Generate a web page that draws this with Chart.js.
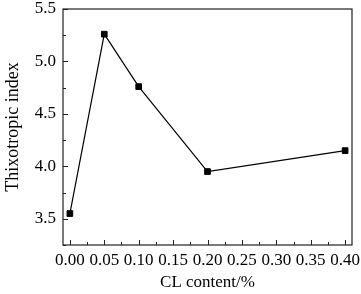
<!DOCTYPE html>
<html>
<head>
<meta charset="utf-8">
<script src="https://cdn.jsdelivr.net/npm/chart.js@4/dist/chart.umd.min.js"></script>
<style>
  html, body { margin: 0; padding: 0; background: #fff; }
</style>
</head>
<body>
<canvas id="thixo-chart" width="361" height="294"></canvas>
<script>
const clContent = [0.00, 0.05, 0.10, 0.20, 0.40];
const thixoIndex = [3.55, 5.26, 4.76, 3.95, 4.15];
const xTicks = [0.00, 0.05, 0.10, 0.15, 0.20, 0.25, 0.30, 0.35, 0.40];
const xMinorTicks = [0.025, 0.075, 0.125, 0.175, 0.225, 0.275, 0.325, 0.375];
const yTicks = [3.5, 4.0, 4.5, 5.0, 5.5];
const yMinorTicks = [3.25, 3.75, 4.25, 4.75, 5.25];

const fontFamily = '"Liberation Serif", "DejaVu Serif", serif';

// ticks pointing into the plot, plus the closed frame
const frameTicks = {
    id: 'frameTicks',
    afterDraw(chart) {
        const ctx = chart.ctx;
        const a = chart.chartArea;
        const xs = chart.scales.x;
        const ys = chart.scales.y;
        ctx.save();
        ctx.strokeStyle = '#222';
        ctx.lineWidth = 1.2;
        ctx.strokeRect(a.left, a.top, a.right - a.left, a.bottom - a.top);
        ctx.lineWidth = 1;
        ctx.beginPath();
        xTicks.forEach(v => {
            const px = Math.round(xs.getPixelForValue(v)) + 0.5;
            ctx.moveTo(px, a.bottom);
            ctx.lineTo(px, a.bottom - 5);
        });
        xMinorTicks.forEach(v => {
            const px = Math.round(xs.getPixelForValue(v)) + 0.5;
            ctx.moveTo(px, a.bottom);
            ctx.lineTo(px, a.bottom - 3);
        });
        yTicks.forEach(v => {
            const py = Math.round(ys.getPixelForValue(v)) + 0.5;
            ctx.moveTo(a.left, py);
            ctx.lineTo(a.left + 5, py);
        });
        yMinorTicks.forEach(v => {
            const py = Math.round(ys.getPixelForValue(v)) + 0.5;
            ctx.moveTo(a.left, py);
            ctx.lineTo(a.left + 3, py);
        });
        ctx.stroke();
        ctx.restore();
    }
};

const ctx = document.getElementById('thixo-chart').getContext('2d');
new Chart(ctx, {
    type: 'scatter',
    data: {
        datasets: [{
            label: 'Thixotropic index',
            data: clContent.map((x, i) => ({ x: x, y: thixoIndex[i] })),
            showLine: true,
            borderColor: '#000',
            borderWidth: 1.2,
            pointStyle: 'rect',
            pointRadius: 4,
            pointBorderWidth: 1,
            pointBackgroundColor: '#000',
            pointBorderColor: '#000'
        }]
    },
    options: {
        responsive: false,
        animation: false,
        layout: { padding: { top: 9, right: 9, left: 0, bottom: 0 } },
        plugins: {
            legend: { display: false },
            tooltip: { enabled: false }
        },
        scales: {
            x: {
                type: 'linear',
                min: -0.01,
                max: 0.41,
                afterBuildTicks: scale => { scale.ticks = xTicks.map(v => ({ value: v })); },
                afterFit: scale => {
                    scale.height = 49;
                    scale.paddingLeft = 0;
                    scale.paddingRight = 0;
                },
                grid: { display: false, drawTicks: false },
                border: { display: false },
                ticks: {
                    padding: 5,
                    color: '#000',
                    font: { family: fontFamily, size: 17 },
                    maxRotation: 0,
                    autoSkip: false,
                    callback: v => Number(v).toFixed(2)
                },
                title: {
                    display: true,
                    text: 'CL content/%',
                    color: '#000',
                    font: { family: fontFamily, size: 17 },
                    padding: { top: 0, bottom: 1 }
                }
            },
            y: {
                type: 'linear',
                min: 3.25,
                max: 5.5,
                afterBuildTicks: scale => { scale.ticks = yTicks.map(v => ({ value: v })); },
                afterFit: scale => {
                    scale.width = 63;
                    scale.paddingTop = 0;
                    scale.paddingBottom = 0;
                },
                grid: { display: false, drawTicks: false },
                border: { display: false },
                ticks: {
                    padding: 7,
                    color: '#000',
                    font: { family: fontFamily, size: 17 },
                    callback: v => Number(v).toFixed(1)
                },
                title: {
                    display: true,
                    text: 'Thixotropic index',
                    color: '#000',
                    font: { family: fontFamily, size: 18 },
                    padding: { top: 2, bottom: 0 }
                }
            }
        }
    },
    plugins: [frameTicks]
});
</script>
</body>
</html>
